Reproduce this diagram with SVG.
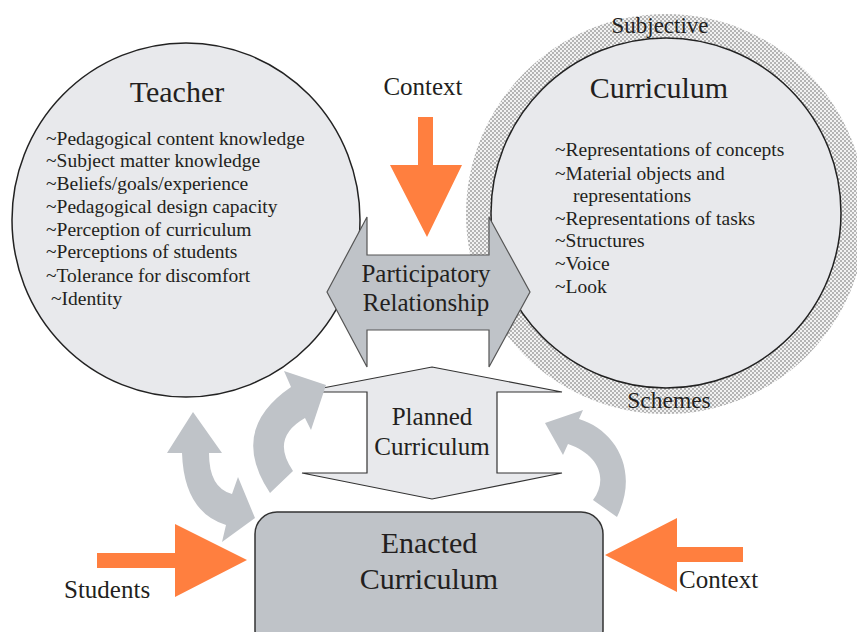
<svg xmlns="http://www.w3.org/2000/svg" width="857" height="632" viewBox="0 0 857 632">
<style>
text { fill: #231f20; }
.title { font-size: 30px; }
.item { font-size: 19.5px; }
.lbl { font-size: 25px; }
.node { fill: #e8e9ec; stroke: #222; stroke-width: 1.5; }
.gray { fill: #bfc3c8; stroke: none; }
.orange { fill: #ff7f3f; stroke: none; }
</style>
<defs>
<pattern id="hatch" width="4" height="4" patternUnits="userSpaceOnUse">
<rect width="4" height="4" fill="#f2f2f2"/>
<rect x="0" y="0" width="2" height="2" fill="#b4b4b4"/>
<rect x="2" y="2" width="2" height="2" fill="#b4b4b4"/>
</pattern>
</defs>
<rect width="857" height="632" fill="#ffffff"/>
<g font-family="'Liberation Serif', 'DejaVu Serif', 'Times New Roman', serif">
<g id="curriculum">
<circle cx="666" cy="214" r="200" fill="url(#hatch)"/>
<circle class="node" cx="666" cy="213" r="175"/>
<text x="660" y="33" text-anchor="middle" font-size="23">Subjective</text>
<text x="669" y="408" text-anchor="middle" font-size="23.5">Schemes</text>
<text class="title" x="659" y="98" text-anchor="middle">Curriculum</text>
<text class="item" x="555" y="156">~Representations of concepts</text>
<text class="item" x="555" y="180">~Material objects and</text>
<text class="item" x="573" y="202">representations</text>
<text class="item" x="555" y="225">~Representations of tasks</text>
<text class="item" x="555" y="247">~Structures</text>
<text class="item" x="555" y="270">~Voice</text>
<text class="item" x="555" y="293">~Look</text>
</g>

<g id="teacher">
<ellipse class="node" cx="186" cy="220" rx="174" ry="177"/>
<text class="title" x="177" y="102" text-anchor="middle">Teacher</text>
<text class="item" x="46" y="145">~Pedagogical content knowledge</text>
<text class="item" x="46" y="167">~Subject matter knowledge</text>
<text class="item" x="46" y="190">~Beliefs/goals/experience</text>
<text class="item" x="46" y="213">~Pedagogical design capacity</text>
<text class="item" x="46" y="236">~Perception of curriculum</text>
<text class="item" x="46" y="258">~Perceptions of students</text>
<text class="item" x="46" y="282">~Tolerance for discomfort</text>
<text class="item" x="51" y="305">~Identity</text>
</g>

<g id="participatory">
<path d="M327,292 L367,217 L367,255 L489,255 L489,217 L530,292 L489,367 L489,330 L367,330 L367,367 Z" fill="#bfc3c8" stroke="#555" stroke-width="1.2"/>
<text class="lbl" x="426" y="282" text-anchor="middle">Participatory</text>
<text class="lbl" x="426" y="311" text-anchor="middle">Relationship</text>
</g>

<g id="planned">
<path d="M432,367 L562,392 L497,392 L497,473 L562,473 L432,499 L302,473 L367,473 L367,392 L302,392 Z" fill="#e8e9ec" stroke="#333" stroke-width="1.2"/>
<text class="lbl" x="432" y="425" text-anchor="middle">Planned</text>
<text class="lbl" x="432" y="455" text-anchor="middle">Curriculum</text>
</g>

<g id="enacted">
<rect x="255" y="512" width="348" height="140" rx="22" ry="22" fill="#bfc3c8" stroke="#333" stroke-width="1.5"/>
<text class="title" x="429" y="553" text-anchor="middle">Enacted</text>
<text class="title" x="429" y="589" text-anchor="middle">Curriculum</text>
</g>

<g id="connectors">
<path class="gray" d="M193,412 L222,453 L209,453 Q209,488 232,494 L238,477 L255,518 L222,542 L226,525 Q184,512 182,453 L167,453 Z"/>
<path class="gray" d="M270,493 Q228,430 291,387 L284,371 L326,385 L311,430 L305,418 Q270,438 293,471 Z"/>
<path class="gray" d="M617,517 C640,470 615,430 579,419 L583,410 L545,423 L563,455 L568,444 C600,455 608,480 593,500 Z"/>
<path class="orange" d="M418,117 L433,117 L433,165 L462,165 L427,237 L390,165 L418,165 Z"/>
<path class="orange" d="M97,553 L175,553 L175,524 L247,560 L175,597 L175,568 L97,568 Z"/>
<path class="orange" d="M743,547 L677,547 L677,518 L605,555 L677,592 L677,562 L743,562 Z"/>
<text x="423" y="95" text-anchor="middle" font-size="25">Context</text>
<text x="64" y="598" font-size="25">Students</text>
<text x="679" y="588" font-size="25">Context</text>
</g>
</g>
</svg>
